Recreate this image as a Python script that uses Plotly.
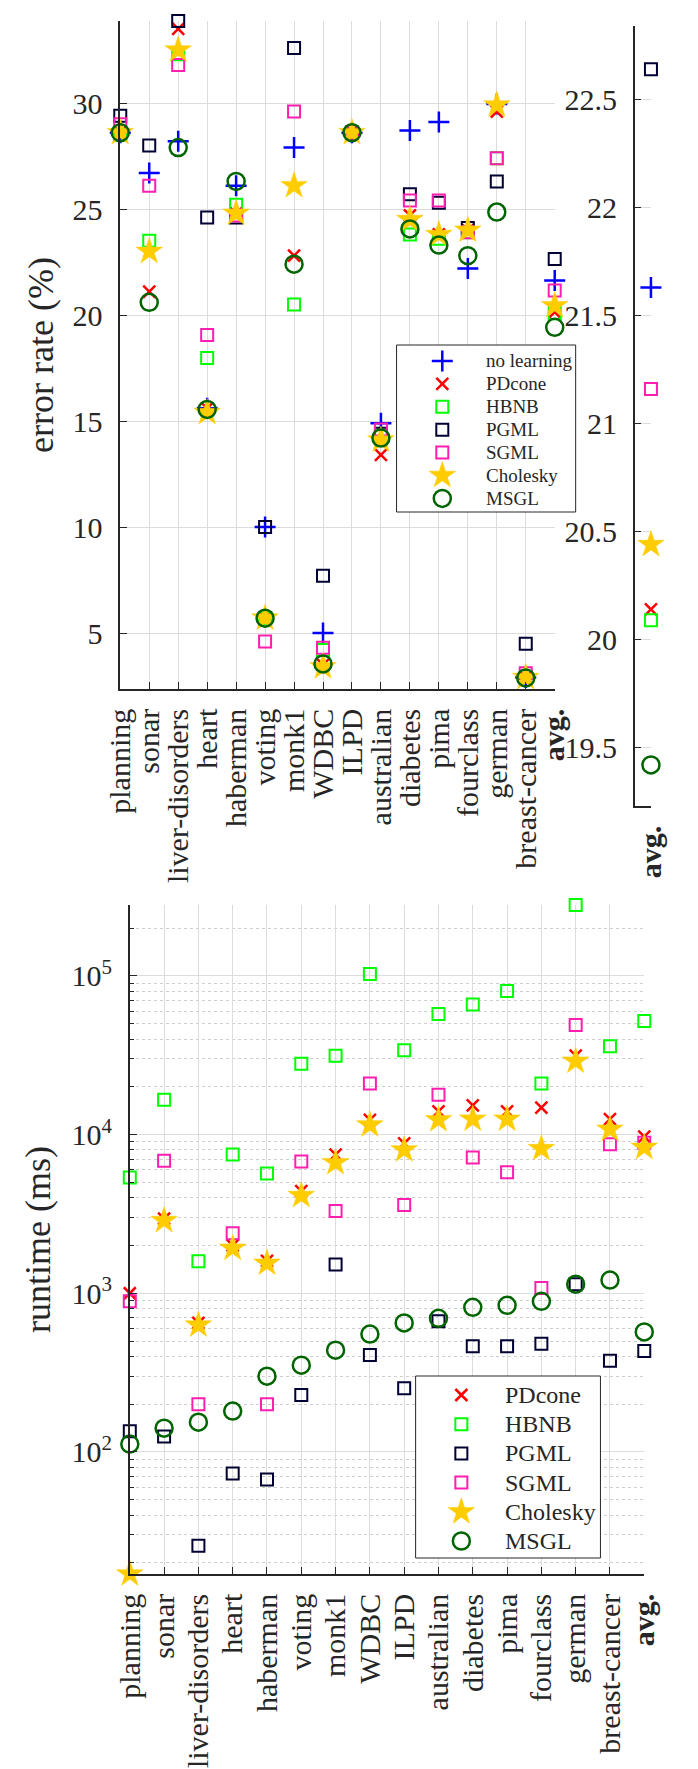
import math
import plotly.graph_objects as go

# ---------------- data ----------------
categories = ["planning", "sonar", "liver-disorders", "heart", "haberman", "voting", "monk1",
              "WDBC", "ILPD", "australian", "diabetes", "pima", "fourclass", "german", "breast-cancer"]
avg_label = "<b>avg.</b>"
methods = ["no learning", "PDcone", "HBNB", "PGML", "SGML", "Cholesky", "MSGL"]

# error rate (%) per dataset
err_no_learning = [28.6, 26.7, 28.2, 15.6, 26.1, 10.0, 27.9, 5.0, 28.6, 14.9, 28.7, 29.1, 22.2, 29.95, 2.9]
err_pdcone      = [28.6, 21.1, 33.5, 15.6, 24.8, 5.7, 22.8, 3.5, 28.6, 13.4, 24.7, 23.8, 24.0, 29.6, 2.9]
err_hbnb        = [28.5, 23.5, 32.3, 17.97, 25.2, 5.7, 20.5, 4.2, 28.6, 14.3, 23.8, 23.6, 23.9, 27.4, 2.3]
err_pgml        = [29.4, 28.0, 33.87, 24.6, 24.6, 10.0, 32.6, 7.7, 28.6, 14.4, 25.7, 25.3, 24.1, 26.3, 4.5]
err_sgml        = [29.0, 26.1, 31.8, 19.06, 24.7, 4.6, 29.6, 4.3, 28.6, 14.6, 25.4, 25.4, 23.9, 27.4, 3.1]
err_cholesky    = [28.6, 23.0, 32.5, 15.4, 24.8, 5.7, 26.1, 3.4, 28.6, 14.1, 24.5, 23.8, 24.0, 29.9, 2.9]
err_msgl        = [28.6, 20.6, 27.9, 15.55, 26.3, 5.7, 22.4, 3.54, 28.6, 14.2, 24.06, 23.3, 22.8, 24.86, 2.88]
# average error rate per method (same order as methods)
err_avg = [21.63, 20.14, 20.09, 22.64, 21.16, 20.44, 19.42]

# runtime (ms) per dataset, last value = avg.
rt_pdcone   = [1000, 2950, 650, 2000, 1600, 4400, 7480, 12400, 8800, 14000, 15300, 14000, 14800, 31500, 12500, 9700]
rt_hbnb     = [5370, 16600, 1590, 7480, 5690, 28000, 31400, 103000, 34000, 57500, 66000, 80500, 21000, 280000, 36000, 52000]
rt_pgml     = [135, 125, 25.6, 73, 67, 228, 1520, 408, 252, 665, 464, 464, 480, 1140, 375, 432]
rt_sgml     = [890, 6850, 200, 2390, 200, 6770, 3300, 21000, 3600, 17800, 7160, 5800, 1080, 49000, 8700, 8900]
rt_cholesky = [17, 2870, 630, 1920, 1545, 4130, 6650, 11500, 8000, 12400, 12500, 12500, 8150, 29000, 10800, 8300]
rt_msgl     = [112, 141, 154, 181, 300, 352, 438, 553, 650, 695, 815, 840, 890, 1140, 1210, 570]

err_series = [err_no_learning, err_pdcone, err_hbnb, err_pgml, err_sgml, err_cholesky, err_msgl]
rt_series = [None, rt_pdcone, rt_hbnb, rt_pgml, rt_sgml, rt_cholesky, rt_msgl]

# ---------------- styles ----------------
W, H = 698, 1769
FONT = "Liberation Serif"
AX = "#262626"
GRID = "#dcdcdc"

styles = {
    "no learning": dict(symbol="cross-thin-open", size=15, color="rgb(0,0,255)", line=dict(width=2.5, color="rgb(0,0,255)")),
    "PDcone": dict(symbol="x-thin-open", size=12, color="rgb(255,0,0)", line=dict(width=2.5, color="rgb(255,0,0)")),
    "HBNB": dict(symbol="square-open", size=12, color="rgb(0,255,0)", line=dict(width=2, color="rgb(0,255,0)")),
    "PGML": dict(symbol="square-open", size=12, color="rgb(0,0,51)", line=dict(width=2, color="rgb(0,0,51)")),
    "SGML": dict(symbol="square-open", size=12, color="rgb(255,30,175)", line=dict(width=2, color="rgb(255,30,175)")),
    "Cholesky": dict(symbol="star", size=20, color="rgb(255,204,0)", line=dict(width=0.5, color="rgb(255,204,0)")),
    "MSGL": dict(symbol="circle-open", size=17, color="rgb(0,100,0)", line=dict(width=2.5, color="rgb(0,100,0)")),
}

fig = go.Figure()
xcat = list(range(len(categories) + 1))

for i, m in enumerate(methods):
    fig.add_trace(go.Scatter(x=xcat, y=err_series[i] + [err_avg[i]], mode="markers", name=m,
                             marker=styles[m], xaxis="x", yaxis="y",
                             cliponaxis=False, showlegend=False))
for i, m in enumerate(methods):
    fig.add_trace(go.Scatter(x=[0], y=[err_avg[i]], mode="markers", name=m,
                             marker=styles[m], xaxis="x2", yaxis="y2",
                             cliponaxis=False, showlegend=False))
for i, m in enumerate(methods):
    if rt_series[i] is None:
        continue
    fig.add_trace(go.Scatter(x=xcat, y=rt_series[i], mode="markers", name=m,
                             marker=styles[m], xaxis="x3", yaxis="y3",
                             cliponaxis=False, showlegend=False))

# ---------------- legends (boxes drawn on an overlay axis in pixel units) ----------------
annotations = []

def add_legend(names, box, row0, row_h, key_x, text_x, fsize):
    x0, y0, x1, y1 = box
    fig.add_trace(go.Scatter(x=[x0, x1, x1, x0, x0], y=[y0, y0, y1, y1, y0], mode="lines",
                             fill="toself", fillcolor="white",
                             line=dict(color=AX, width=1), xaxis="x4", yaxis="y4",
                             showlegend=False, hoverinfo="skip", cliponaxis=False))
    for k, m in enumerate(names):
        yy = row0 + k * row_h
        fig.add_trace(go.Scatter(x=[key_x], y=[yy], mode="markers", marker=styles[m],
                                 xaxis="x4", yaxis="y4", showlegend=False,
                                 hoverinfo="skip", cliponaxis=False))
        annotations.append(dict(x=text_x / W, y=1 - yy / H, xref="paper", yref="paper",
                                text=m, showarrow=False, xanchor="left", yanchor="middle",
                                font=dict(family=FONT, size=fsize, color=AX)))

add_legend(methods, (390, 337, 578, 504), 353, 22.9, 438, 482, 19)
add_legend(methods[1:], (410, 1368, 604, 1550), 1387, 29.2, 458, 502, 24)

def py(px):
    return 1 - px / H

def pxx(px):
    return px / W

tickfont = dict(family=FONT, size=30, color=AX)
common = dict(showline=True, linecolor=AX, linewidth=1.5, ticks="inside", ticklen=7,
              tickcolor=AX, tickwidth=1, zeroline=False, showgrid=True, gridcolor=GRID,
              gridwidth=1, tickfont=tickfont, mirror=False)

ticktext = categories + [avg_label]

fig.update_layout(
    width=W, height=H, margin=dict(l=0, r=0, t=0, b=0),
    paper_bgcolor="white", plot_bgcolor="rgba(0,0,0,0)",
    font=dict(family=FONT, color=AX),
    showlegend=False,
    annotations=annotations,
    xaxis=dict(domain=[pxx(100), pxx(556)], range=[0, 15], anchor="y",
               tickmode="array", tickvals=xcat, ticktext=ticktext, tickangle=-90,
               ticklabelstandoff=6, **common),
    yaxis=dict(domain=[py(681), py(13)], range=[2.36, 33.87], anchor="x",
               tickmode="array", tickvals=[5, 10, 15, 20, 25, 30],
               ticklabelstandoff=10,
               title=dict(text="error rate (%)", font=dict(family=FONT, size=36, color=AX), standoff=8),
               **common),
    xaxis2=dict(domain=[pxx(640), pxx(657)], range=[-1, 0], anchor="y2",
                tickmode="array", tickvals=[0], ticktext=[avg_label], tickangle=-90,
                ticklabelstandoff=6, **common),
    yaxis2=dict(domain=[py(798), py(18)], range=[19.23, 22.84], anchor="x2",
                tickmode="array", tickvals=[19.5, 20, 20.5, 21, 21.5, 22, 22.5],
                ticktext=["19.5", "20", "20.5", "21", "21.5", "22", "22.5"],
                ticklabelstandoff=10, **common),
    xaxis3=dict(domain=[pxx(110), pxx(650)], range=[0, 15], anchor="y3",
                tickmode="array", tickvals=xcat, ticktext=ticktext, tickangle=-90,
                ticklabelstandoff=6, **common),
    yaxis3=dict(type="log", domain=[py(1566), py(897)],
                range=[math.log10(17), math.log10(2.8e5)], anchor="x3",
                tickmode="array", tickvals=[1e2, 1e3, 1e4, 1e5],
                ticktext=["10<sup>2</sup>", "10<sup>3</sup>", "10<sup>4</sup>", "10<sup>5</sup>"],
                ticklabelstandoff=10,
                minor=dict(tickmode="array",
                           tickvals=[k * 10 ** e for e in range(1, 6) for k in range(2, 10)
                                     if 17 <= k * 10 ** e <= 2.8e5],
                           showgrid=True, griddash="dot", gridcolor="#cfcfcf", gridwidth=1,
                           ticks="inside", ticklen=4, tickcolor=AX),
                title=dict(text="runtime (ms)", font=dict(family=FONT, size=36, color=AX), standoff=10),
                **common),
    xaxis4=dict(domain=[0, 1], range=[0, W], anchor="y4", visible=False, fixedrange=True),
    yaxis4=dict(domain=[0, 1], range=[H, 0], anchor="x4", visible=False, fixedrange=True),
)

fig.write_html("out.html")
